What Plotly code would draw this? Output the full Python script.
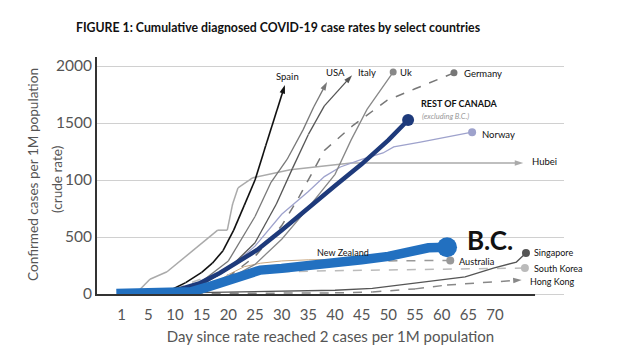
import plotly.graph_objects as go

# ---- data (day index, cases per 1M) ----
spain_days = [0, 5, 9, 12, 15, 17, 19, 21, 23, 25, 27, 29, 30.6]
spain_vals = [2, 10, 30, 100, 190, 270, 380, 560, 780, 1000, 1300, 1600, 1833]

usa_days = [0, 10, 15, 20, 25, 28, 31, 34, 36, 38.5]
usa_vals = [2, 30, 110, 290, 680, 980, 1180, 1440, 1640, 1860]

italy_days = [0, 10, 15, 20, 25, 29, 32, 35, 38, 43.2]
italy_vals = [2, 25, 80, 220, 450, 790, 1100, 1400, 1650, 1920]

uk_days = [0, 10, 15, 20, 25, 30, 34, 37, 40, 43, 46, 50.9]
uk_vals = [2, 15, 50, 130, 260, 480, 700, 870, 1050, 1350, 1620, 1947]

germany_days = [0, 10, 15, 20, 25, 30, 33, 38, 43.4, 49.8, 55, 62.3]
germany_vals = [2, 15, 50, 150, 330, 600, 830, 1260, 1480, 1700, 1800, 1940]

roc_days = [0, 5, 10, 14.7, 18.4, 22, 25.4, 30, 35, 40, 45, 50, 53.7]
roc_vals = [2, 5, 30, 96, 184, 290, 386, 560, 760, 950, 1140, 1350, 1526]

norway_days = [0, 10, 15, 20, 25, 30, 35, 38, 41, 45, 49, 51, 56, 65.7]
norway_vals = [2, 20, 80, 220, 420, 700, 900, 1030, 1114, 1180, 1237, 1290, 1333, 1420]

hubei_days = [0, 3, 5.3, 8.5, 18, 19.8, 20.8, 21.8, 24.6, 31.6, 43, 60, 75.3]
hubei_vals = [2, 20, 130, 195, 560, 560, 790, 930, 1020, 1090, 1150, 1150, 1150]

bc_days = [-1, 10, 13, 16, 19, 21, 24, 26, 30, 35, 40, 45, 50, 55, 57.5, 61]
bc_vals = [5, 5, 20, 60, 110, 140, 190, 210, 225, 245, 275, 300, 330, 370, 405, 410]

nz_days = [0, 10, 15, 18, 20, 23, 26, 30, 35, 40, 45, 50]
nz_vals = [2, 15, 50, 110, 170, 240, 270, 290, 300, 305, 310, 312]

australia_days = [0, 10, 15, 20, 25, 30, 35, 40, 45, 50, 55, 61.6]
australia_vals = [2, 15, 50, 120, 180, 230, 260, 275, 285, 290, 293, 295]

skorea_days = [0, 5, 10, 13, 16, 20, 25, 30, 40, 50, 60, 70, 75.6]
skorea_vals = [2, 10, 40, 100, 150, 170, 185, 195, 205, 212, 218, 222, 228]

singapore_days = [0, 10, 20, 30, 40, 47, 55, 64.4, 69.7, 74, 75.8]
singapore_vals = [2, 10, 20, 28, 33, 50, 95, 150, 228, 280, 360]

hongkong_days = [0, 20, 40, 47, 55, 61, 68, 75]
hongkong_vals = [2, 5, 10, 18, 45, 79, 100, 123]

x_tickvals = [0, 5, 10, 15, 20, 25, 30, 35, 40, 45, 50, 55, 60, 65, 70]
x_ticktext = ["1", "5", "10", "15", "20", "25", "30", "35", "40", "45", "50", "55", "60", "65", "70"]
y_tickvals = [0, 500, 1000, 1500, 2000]
y_ticktext = ["0", "500", "100", "1500", "2000"]

FONT = "Lato, sans-serif"

fig = go.Figure()


def add(days, vals, color, width, dash="solid", end="dot", end_size=7):
    n = len(days)
    sizes = [0] * (n - 1) + [end_size]
    symbol = "circle" if end == "dot" else "arrow"
    fig.add_trace(go.Scatter(
        x=days, y=vals, mode="lines+markers",
        line=dict(color=color, width=width, dash=dash),
        marker=dict(size=sizes, color=color, symbol=symbol, angleref="previous",
                    opacity=1, line=dict(width=0)),
        hoverinfo="skip", showlegend=False))


add(hubei_days, hubei_vals, "#aaaaaa", 1.5, end="arrow", end_size=9)
add(nz_days, nz_vals, "#c9a77f", 1.0, end="none", end_size=0)
add(skorea_days, skorea_vals, "#bbbbbb", 1.5, dash="dash", end_size=8)
add(hongkong_days, hongkong_vals, "#888888", 1.5, dash="dash", end="arrow", end_size=9)
add(singapore_days, singapore_vals, "#555555", 1.3, end_size=8)
add(australia_days, australia_vals, "#999999", 1.5, dash="dash", end_size=8)
add(norway_days, norway_vals, "#9ea2cc", 1.3, end_size=8)
add(germany_days, germany_vals, "#777777", 1.5, dash="dash", end_size=7)
add(uk_days, uk_vals, "#888888", 1.3, end_size=7)
add(italy_days, italy_vals, "#555555", 1.3, end="arrow", end_size=9)
add(usa_days, usa_vals, "#777777", 1.3, end="arrow", end_size=9)
add(spain_days, spain_vals, "#111111", 1.6, end="arrow", end_size=9)
add(roc_days, roc_vals, "#1e3a7b", 4.5, end_size=12)
add(bc_days, bc_vals, "#2270c0", 9.5, end_size=20)

labels = [
    # text, x, y, xanchor, size, color
    ("Spain", 31.1, 1904, "center", 9.5, "#111"),
    ("USA", 40.0, 1939, "center", 9.5, "#111"),
    ("Italy", 46.0, 1947, "center", 9.5, "#111"),
    ("Uk", 51.8, 1947, "left", 9.5, "#111"),
    ("Germany", 63.8, 1930, "left", 9.5, "#111"),
    ("<b>REST OF CANADA</b>", 55.7, 1675, "left", 9, "#111"),
    ("<i>(excluding B.C.)</i>", 55.9, 1561, "left", 7.5, "#999"),
    ("Norway", 67.2, 1403, "left", 9.5, "#111"),
    ("Hubei", 76.6, 1158, "left", 9.5, "#111"),
    ("<b>B.C.</b>", 64.4, 474, "left", 26, "#111"),
    ("New Zealand", 41.5, 368, "center", 9, "#111"),
    ("Australia", 62.9, 281, "left", 9.2, "#111"),
    ("Singapore", 77.0, 368, "left", 9, "#111"),
    ("South Korea", 77.0, 228, "left", 9, "#111"),
    ("Hong Kong", 76.2, 114, "left", 9, "#111"),
]
for t, x, y, xa, s, c in labels:
    fig.add_annotation(x=x, y=y, text=t, showarrow=False, xanchor=xa, yanchor="middle",
                       font=dict(family=FONT, size=s, color=c))

# y-axis title lines (figure px positions, page body adds an 8px offset)
PL, PT, PW, PH = 89, 49, 467, 239
for txt, cx, cy, sz in [("Confirmed cases per 1M population", 25, 167, 13.6),
                        ("(crude rate)", 49, 171, 13.6)]:
    fig.add_annotation(xref="paper", yref="paper", x=(cx - PL) / PW, y=(PT + PH - cy) / PH,
                       text=txt, textangle=-90, showarrow=False,
                       xanchor="center", yanchor="middle",
                       font=dict(family=FONT, size=sz, color="#555"))

# x-axis baseline (stops short of the grid)
fig.add_shape(type="line", xref="x", yref="paper", x0=-4.63, x1=77.5, y0=0.004, y1=0.004,
              line=dict(color="#333333", width=2))

fig.update_layout(
    width=640, height=362,
    margin=dict(l=PL, r=640 - PL - PW, t=PT, b=362 - PT - PH),
    paper_bgcolor="white", plot_bgcolor="white",
    title=dict(text="<b>FIGURE 1: Cumulative diagnosed COVID-19 case rates by select countries</b>",
               x=270 / 640, xref="container", xanchor="center", y=1 - 20 / 362, yref="container",
               yanchor="middle", font=dict(family=FONT, size=12.3, color="#111")),
    xaxis=dict(range=[-4.63, 82.93], tickvals=x_tickvals, ticktext=x_ticktext,
               showgrid=False, zeroline=False, showline=False, ticks="", automargin=False,
               ticklabelstandoff=8,
               tickfont=dict(family=FONT, size=15, color="#555"),
               title=dict(text="Day since rate reached 2 cases per 1M population",
                          font=dict(family=FONT, size=15, color="#555"), standoff=9)),
    yaxis=dict(range=[-17.5, 2079], tickvals=y_tickvals, ticktext=y_ticktext,
               showgrid=True, gridcolor="#d0d0d0", gridwidth=1, zeroline=False,
               showline=True, linecolor="#333333", linewidth=2, ticks="", automargin=False,
               tickfont=dict(family=FONT, size=15.5, color="#555")),
)

fig.write_html("out.html")
